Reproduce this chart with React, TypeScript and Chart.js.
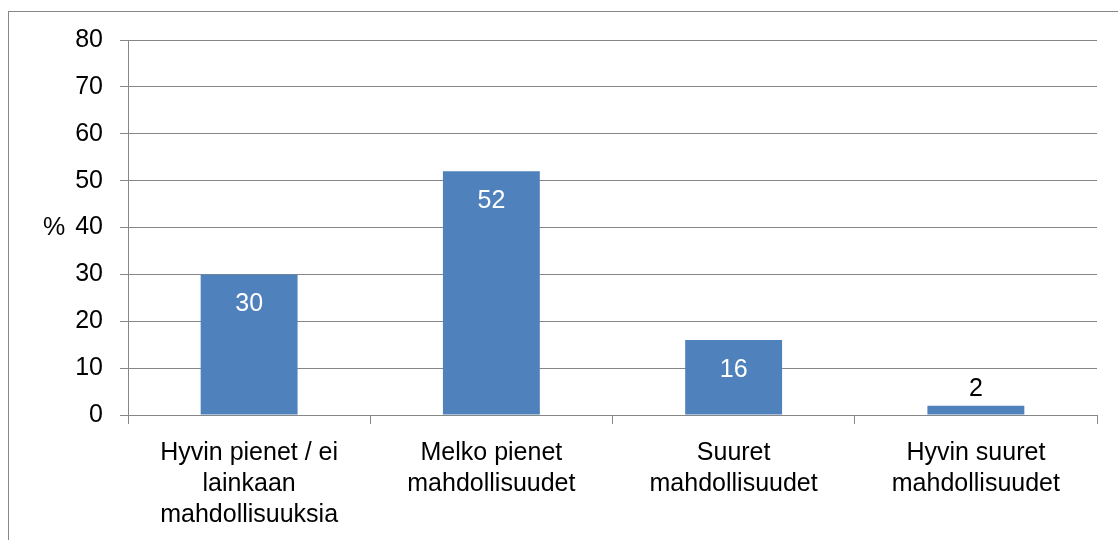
import React, { useEffect, useRef } from "react";
import { Chart, registerables } from "chart.js";

Chart.register(...registerables);

const categories: string[][] = [
  ["Hyvin pienet / ei", "lainkaan", "mahdollisuuksia"],
  ["Melko pienet", "mahdollisuudet"],
  ["Suuret", "mahdollisuudet"],
  ["Hyvin suuret", "mahdollisuudet"],
];
const values: number[] = [30, 52, 16, 2];
const yMin = 0;
const yMax = 80;
const yStep = 10;
const yUnit = "%";

const FONT = "'Liberation Sans', Arial, sans-serif";
const GRAY = "#878787";
const BAR = "#4F81BD";

const decorPlugin = {
  id: "decor",
  beforeDraw(chart: any) {
    const ctx = chart.ctx;
    ctx.save();
    ctx.strokeStyle = GRAY;
    ctx.lineWidth = 1;
    ctx.strokeRect(8.5, 11.5, chart.width + 10, chart.height + 10);
    ctx.restore();
  },
  afterDatasetsDraw(chart: any) {
    const ctx = chart.ctx;
    const meta = chart.getDatasetMeta(0);
    ctx.save();
    ctx.font = `25px ${FONT}`;
    ctx.textAlign = "center";
    ctx.textBaseline = "middle";
    meta.data.forEach((bar: any, i: number) => {
      const h = bar.base - bar.y;
      const label = String(values[i]);
      if (h >= 45) {
        ctx.fillStyle = "#ffffff";
        ctx.fillText(label, bar.x, bar.y + 30);
      } else {
        ctx.fillStyle = "#000000";
        ctx.fillText(label, bar.x, bar.y - 17);
      }
    });
    // y unit label
    const area = chart.chartArea;
    ctx.fillStyle = "#000000";
    ctx.fillText(yUnit, 54, (area.top + area.bottom) / 2 + 1);
    ctx.restore();
  },
};

export default function App() {
  const ref = useRef<HTMLCanvasElement | null>(null);
  useEffect(() => {
    if (!ref.current) return;
    const chart = new Chart(ref.current, {
      type: "bar",
      data: {
        labels: categories,
        datasets: [
          {
            data: values,
            backgroundColor: BAR,
            borderWidth: 0,
            categoryPercentage: 1,
            barPercentage: 0.4,
          },
        ],
      },
      options: {
        animation: false,
        responsive: false,
        maintainAspectRatio: false,
        layout: { padding: { left: 0, top: 40, right: 21, bottom: 0 } },
        plugins: {
          legend: { display: false },
          tooltip: { enabled: false },
          title: { display: false },
        },
        scales: {
          x: {
            grid: {
              display: true,
              offset: true,
              drawOnChartArea: false,
              drawTicks: true,
              tickLength: 9,
              color: GRAY,
              lineWidth: 1,
            },
            border: { display: true, color: GRAY, width: 1 },
            ticks: {
              color: "#000",
              font: { family: FONT, size: 25, lineHeight: 1.25 },
              padding: 13,
              maxRotation: 0,
              minRotation: 0,
              autoSkip: false,
            },
            afterFit(scale: any) {
              scale.height = 125;
            },
          },
          y: {
            min: yMin,
            max: yMax,
            grid: {
              color: GRAY,
              lineWidth: 1,
              drawTicks: true,
              tickLength: 8,
            },
            border: { display: true, color: GRAY, width: 1 },
            ticks: {
              stepSize: yStep,
              color: "#000",
              font: { family: FONT, size: 25 },
              padding: 17,
            },
            afterFit(scale: any) {
              scale.width = 128;
            },
          },
        },
      },
      plugins: [decorPlugin],
    });
    return () => chart.destroy();
  }, []);
  return (
    <div style={{ position: "absolute", left: 0, top: 0, width: 1118, height: 540 }}>
      <canvas ref={ref} width={1118} height={540} style={{ display: "block" }} />
    </div>
  );
}
